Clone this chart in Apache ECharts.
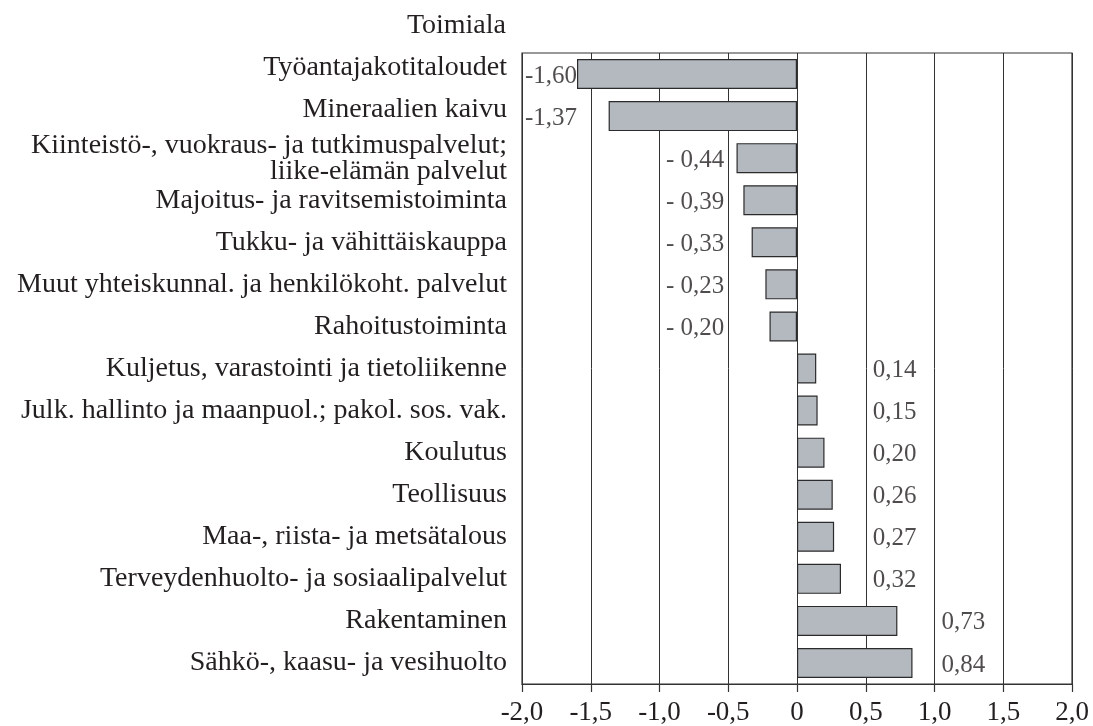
<!DOCTYPE html>
<html>
<head>
<meta charset="utf-8">
<script src="https://cdn.jsdelivr.net/npm/echarts@6/dist/echarts.min.js"></script>
<style>
html,body{margin:0;padding:0;background:#fff;}
#chart{width:1093px;height:726px;}
</style>
</head>
<body>
<div id="chart"></div>
<script>
const categories = [
  'Työantajakotitaloudet',
  'Mineraalien kaivu',
  'Kiinteistö-, vuokraus- ja tutkimuspalvelut;\nliike-elämän palvelut',
  'Majoitus- ja ravitsemistoiminta',
  'Tukku- ja vähittäiskauppa',
  'Muut yhteiskunnal. ja henkilökoht. palvelut',
  'Rahoitustoiminta',
  'Kuljetus, varastointi ja tietoliikenne',
  'Julk. hallinto ja maanpuol.; pakol. sos. vak.',
  'Koulutus',
  'Teollisuus',
  'Maa-, riista- ja metsätalous',
  'Terveydenhuolto- ja sosiaalipalvelut',
  'Rakentaminen',
  'Sähkö-, kaasu- ja vesihuolto'
];
const values = [-1.60, -1.37, -0.44, -0.39, -0.33, -0.23, -0.20, 0.14, 0.15, 0.20, 0.26, 0.27, 0.32, 0.73, 0.84];
const valueLabels = ['-1,60', '-1,37', '- 0,44', '- 0,39', '- 0,33', '- 0,23', '- 0,20', '0,14', '0,15', '0,20', '0,26', '0,27', '0,32', '0,73', '0,84'];
const axisTitle = 'Toimiala';
const xMin = -2, xMax = 2, xStep = 0.5;

const FONT = '"Liberation Serif", "Times New Roman", serif';
const TXT = '#231f20';

// value labels sit in the grid cell beyond the end of each bar
const labelPoints = values.map((v, i) => {
  let anchor, pos, dist;
  if (v > 0) {
    anchor = Math.ceil(v / xStep) * xStep; pos = 'right'; dist = 7;
  } else {
    const f = Math.floor(v / xStep) * xStep;
    if (f <= xMin + xStep) { anchor = xMin; pos = 'right'; dist = 3; }
    else { anchor = f; pos = 'left'; dist = 4; }
  }
  return {
    value: [anchor, categories[i]],
    label: { show: true, position: pos, distance: dist, formatter: valueLabels[i] }
  };
});

const chart = echarts.init(document.getElementById('chart'), null, {renderer: 'canvas'});
chart.setOption({
  animation: false,
  backgroundColor: '#fff',
  grid: { left: 522, right: 21, top: 53, bottom: 41, show: true, borderColor: '#333', borderWidth: 1.2, containLabel: false },
  xAxis: {
    type: 'value', min: xMin, max: xMax, interval: xStep,
    axisLine: { show: true, onZero: false, lineStyle: { color: '#333', width: 1.2 } },
    axisTick: { show: true, length: 8, lineStyle: { color: '#333', width: 1.2 } },
    splitLine: { show: true, lineStyle: { color: '#333', width: 1 } },
    axisLabel: {
      margin: 15, color: TXT, fontFamily: FONT, fontSize: 27,
      formatter: v => (Math.abs(v) < 1e-9 ? '0' : v.toFixed(1).replace('.', ','))
    }
  },
  yAxis: {
    type: 'category', data: categories, inverse: true,
    axisLine: { show: false }, axisTick: { show: false }, splitLine: { show: false },
    axisLabel: {
      margin: 15, color: TXT, fontFamily: FONT, fontSize: 28, lineHeight: 26, align: 'right',
      // in the original, the two top category names sit slightly above their bars
      formatter: (val, idx) => idx < 2 ? '{up|' + val + '}' : val,
      rich: { up: { color: TXT, fontFamily: FONT, fontSize: 28, lineHeight: 26, padding: [0, 0, 12, 0] } }
    }
  },
  graphic: [{
    type: 'text', right: 587, top: 12,
    style: { text: axisTitle, fill: TXT, font: '28px ' + FONT, textAlign: 'right' }
  }],
  series: [
    {
      type: 'bar', data: values, barWidth: 30,
      itemStyle: { color: '#b4b8bf', borderColor: '#2b2b2b', borderWidth: 1.2 },
      z: 3
    },
    {
      type: 'scatter', data: labelPoints, symbolSize: 0, silent: true, z: 4,
      label: { color: TXT, fontFamily: FONT, fontSize: 25, offset: [0, 2] }
    }
  ]
});
</script>
</body>
</html>
